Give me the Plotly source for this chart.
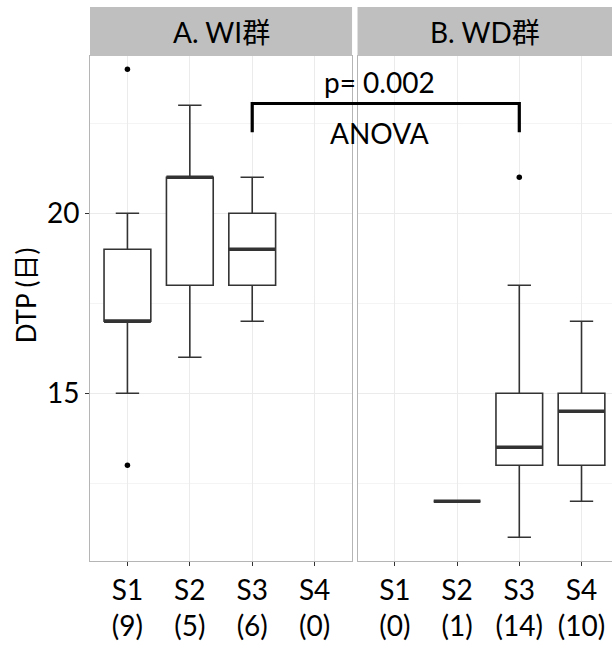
import plotly.graph_objects as go

# ---- data ----
categories = ["S1", "S2", "S3", "S4"]
cat_pos = [1, 2, 3, 4]

wi_counts = [9, 5, 6, 0]
wd_counts = [0, 1, 14, 10]

# WI group box statistics (S1, S2, S3)
wi_x = [1, 2, 3]
wi_low = [15, 16, 17]
wi_q1 = [17, 18, 18]
wi_med = [17, 21, 19]
wi_q3 = [19, 21, 20]
wi_high = [20, 23, 21]
wi_out_x = [1, 1]
wi_out_y = [24, 13]

# WD group box statistics (S2, S3, S4)
wd_x = [2, 3, 4]
wd_low = [12, 11, 12]
wd_q1 = [12, 13, 13]
wd_med = [12, 13.5, 14.5]
wd_q3 = [12, 15, 15]
wd_high = [12, 18, 17]
wd_out_x = [3]
wd_out_y = [21]

# comparison bracket: WI S3 vs WD S3
bracket_from = 3
bracket_to = 3
bracket_top = 23.05
bracket_bottom = 22.25
p_label = "p= 0.002"
p_y = 23.66
test_label = "ANOVA"
test_y = 22.23

strip_titles = ["A. WI群", "B. WD群"]
y_title = "DTP (日)"

# ---- styling ----
FONT = "Lato, 'Noto Sans CJK JP', sans-serif"
LINE = "#333333"
GRID = "#ebebeb"
MINOR = "#f4f4f4"
BORDER = "#b5b5b5"
STRIP = "#bfbfbf"
BOX_W = 0.75
TXT = 28

left_dom = [0.0, 0.502]
right_dom = [0.5125, 1.0]
xr_left = [0.4, 4.6]
xr_right = [0.4, 4.49]
y_range = [10.34, 24.37]


def to_paper(v, dom, rng):
    return dom[0] + (v - rng[0]) / (rng[1] - rng[0]) * (dom[1] - dom[0])


def y_paper(v):
    return (v - y_range[0]) / (y_range[1] - y_range[0])


def median_segments(xs, meds, w):
    sx, sy = [], []
    for x, m in zip(xs, meds):
        sx += [x - w / 2, x + w / 2, None]
        sy += [m, m, None]
    return sx, sy


fig = go.Figure()

for xs, lo, q1, md, q3, hi, xa, ya in [
    (wi_x, wi_low, wi_q1, wi_med, wi_q3, wi_high, "x", "y"),
    (wd_x, wd_low, wd_q1, wd_med, wd_q3, wd_high, "x2", "y2"),
]:
    fig.add_trace(go.Box(
        x=xs, q1=q1, median=md, q3=q3, lowerfence=lo, upperfence=hi,
        width=BOX_W, whiskerwidth=0.5, fillcolor="white",
        line=dict(color=LINE, width=1.6), boxpoints=False,
        xaxis=xa, yaxis=ya, showlegend=False, hoverinfo="skip",
    ))
    mx, my = median_segments(xs, md, BOX_W)
    fig.add_trace(go.Scatter(
        x=mx, y=my, mode="lines", line=dict(color=LINE, width=3.4),
        xaxis=xa, yaxis=ya, showlegend=False, hoverinfo="skip",
    ))

for ox, oy, xa, ya in [(wi_out_x, wi_out_y, "x", "y"), (wd_out_x, wd_out_y, "x2", "y2")]:
    fig.add_trace(go.Scatter(
        x=ox, y=oy, mode="markers", marker=dict(color="black", size=5.5),
        xaxis=xa, yaxis=ya, showlegend=False, hoverinfo="skip",
    ))


def tick_text(counts):
    return [f"{c}<br>({n})" for c, n in zip(categories, counts)]


xaxis_common = dict(
    tickmode="array", tickvals=cat_pos,
    showgrid=True, gridcolor=GRID, gridwidth=1,
    ticks="outside", ticklen=4, tickcolor=LINE, tickwidth=1,
    showline=True, linecolor=BORDER, linewidth=1, mirror=True,
    zeroline=False, tickfont=dict(family=FONT, size=TXT, color="black"),
    fixedrange=True,
)
yaxis_common = dict(
    range=y_range, tickmode="linear", tick0=0, dtick=5,
    showgrid=True, gridcolor=GRID, gridwidth=1,
    minor=dict(dtick=2.5, tick0=0, showgrid=True, gridcolor=MINOR, gridwidth=1),
    showline=True, linecolor=BORDER, linewidth=1, mirror=True,
    zeroline=False, fixedrange=True,
)

fig.update_layout(
    width=612, height=653,
    margin=dict(l=90, r=0, t=56, b=92),
    paper_bgcolor="white", plot_bgcolor="white",
    font=dict(family=FONT, color="black"),
    xaxis=dict(domain=left_dom, range=xr_left, ticktext=tick_text(wi_counts),
               anchor="y", **xaxis_common),
    xaxis2=dict(domain=right_dom, range=xr_right, ticktext=tick_text(wd_counts),
                anchor="y2", **xaxis_common),
    yaxis=dict(anchor="x", ticks="outside", ticklen=4, tickcolor=LINE,
               tickfont=dict(family=FONT, size=TXT, color="black"),
               **yaxis_common),
    yaxis2=dict(anchor="x2", matches="y", showticklabels=False, ticks="",
                **yaxis_common),
)

# y-axis title
fig.add_annotation(xref="paper", yref="paper", x=-0.1226, y=0.526,
                   text=y_title, textangle=-90, showarrow=False,
                   font=dict(family=FONT, size=26, color="black"),
                   xanchor="center", yanchor="middle")

# facet strips
strip_top = 1.097
for dom, title in zip([left_dom, right_dom], strip_titles):
    fig.add_shape(type="rect", xref="paper", yref="paper",
                  x0=dom[0], x1=dom[1], y0=1.0, y1=strip_top,
                  fillcolor=STRIP, line=dict(width=0), layer="above")
    fig.add_annotation(xref="paper", yref="paper", x=(dom[0] + dom[1]) / 2,
                       y=(1.0 + strip_top) / 2, text=title, showarrow=False,
                       font=dict(family=FONT, size=TXT, color="black"),
                       xanchor="center", yanchor="middle")

# significance bracket spanning both panels
bx0 = to_paper(bracket_from, left_dom, xr_left)
bx1 = to_paper(bracket_to, right_dom, xr_right)
by_top = y_paper(bracket_top)
by_bot = y_paper(bracket_bottom)
fig.add_shape(type="path", xref="paper", yref="paper",
              path=f"M {bx0},{by_bot} L {bx0},{by_top} L {bx1},{by_top} L {bx1},{by_bot}",
              line=dict(color="black", width=3.2), layer="above")

mid = (bx0 + bx1) / 2
for txt, yv in [(p_label, p_y), (test_label, test_y)]:
    fig.add_annotation(xref="paper", yref="y", x=mid, xshift=-6, y=yv, text=txt,
                       showarrow=False, font=dict(family=FONT, size=TXT, color="black"),
                       xanchor="center", yanchor="middle")

fig.write_html("out.html")
